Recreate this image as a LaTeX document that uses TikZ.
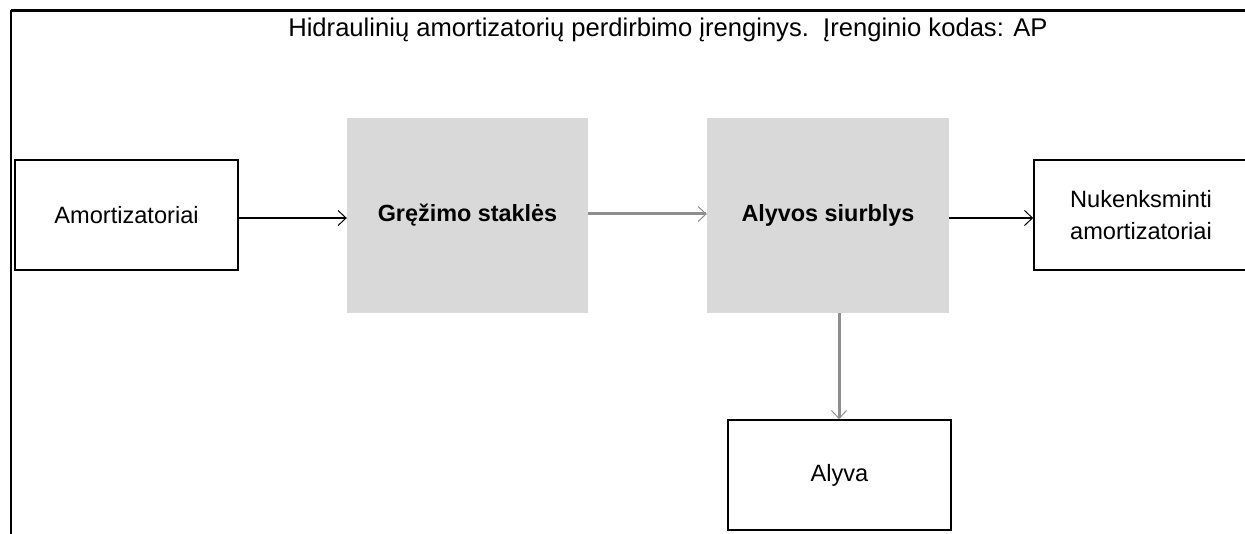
\documentclass[tikz,border=0pt]{standalone}
\usepackage{fontspec}
\setmainfont{Liberation Sans}
\usetikzlibrary{arrows.meta}
\definecolor{boxgray}{HTML}{D9D9D9}
\definecolor{linkgray}{HTML}{8E8E8E}
\begin{document}
\begin{tikzpicture}[x=1pt,y=-1pt,
  plainbox/.style={draw=black,line width=1.6pt,fill=white,inner sep=0pt,
    align=center,font=\fontsize{23.6}{32}\selectfont},
  stagebox/.style={fill=boxgray,inner sep=0pt,align=center,
    font=\fontsize{23.4}{28}\selectfont\bfseries},
  barb/.style={-{Straight Barb[length=8pt,width=15pt,line width=1pt]}},
  blackflow/.style={barb,draw=black,line width=1.4pt},
  grayflow/.style={barb,draw=linkgray,line width=3pt}]
  \useasboundingbox (0,0) rectangle (1245,534);
  \fill[white] (0,0) rectangle (1245,534);
  % frame lines along the top and the left side
  \draw[line width=3pt] (11,11) -- (1246,11);
  \draw[line width=2pt] (11,10) -- (11,535);
  % title
  \node[font=\fontsize{25.6}{30}\selectfont] (title) at (668,30)
    {Hidraulinių amortizatorių perdirbimo įrenginys.\ \ Įrenginio kodas: AP};
  % boxes
  \node[plainbox,minimum width=223pt,minimum height=110pt] (amort) at (126.5,215) {Amortizatoriai};
  \node[stagebox,minimum width=241pt,minimum height=195pt] (drill) at (467.5,215.5) {Gręžimo staklės};
  \node[stagebox,minimum width=242pt,minimum height=195pt] (pump) at (828,215.5) {Alyvos siurblys};
  \node[plainbox,minimum width=214pt,minimum height=110pt] (neutral) at (1141,215)
    {Nukenksminti\\amortizatoriai};
  \node[plainbox,minimum width=223pt,minimum height=110pt] (oil) at (839.5,475) {Alyva};
  % flows
  \draw[blackflow] (amort.east |- 0,218) -- (drill.west |- 0,218);
  \draw[grayflow] (drill.east |- 0,214) -- (pump.west |- 0,214);
  \draw[blackflow] (pump.east |- 0,218) -- (neutral.west |- 0,218);
  \draw[grayflow] (pump.south -| 839,0) -- (oil.north -| 839,0);
\end{tikzpicture}
\end{document}
